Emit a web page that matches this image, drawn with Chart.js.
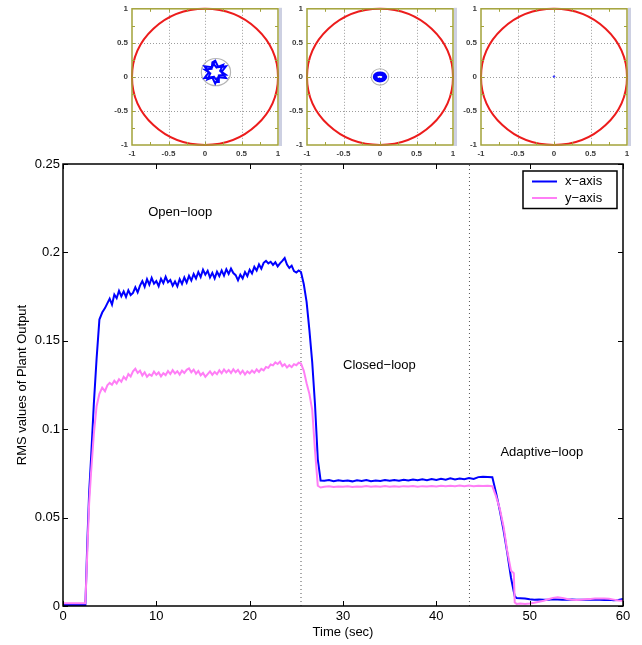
<!DOCTYPE html>
<html><head><meta charset="utf-8">
<script src="https://cdn.jsdelivr.net/npm/chart.js@4.4.0/dist/chart.umd.min.js"></script>
<style>
html,body{margin:0;padding:0;background:#fff;width:642px;height:645px;overflow:hidden}
canvas{position:absolute;top:0}
#main{left:0}
#in1{left:100px}
#in2{left:274px}
#in3{left:448px}
</style></head><body>
<canvas id="main" width="642" height="645"></canvas>
<canvas id="in1" width="186" height="162"></canvas>
<canvas id="in2" width="186" height="162"></canvas>
<canvas id="in3" width="194" height="162"></canvas>
<script>
// ---------------- DATA ----------------
const time = [0,1,2,2.4,2.6,2.8,3.0,3.3,3.6,3.9,4.2,
4.5,4.75,5,5.25,5.5,5.75,6,6.25,6.5,6.75,7,7.25,7.5,7.75,8,8.25,8.5,8.75,9,9.25,9.5,9.75,
10,10.25,10.5,10.75,11,11.25,11.5,11.75,12,12.25,12.5,12.75,13,13.25,13.5,13.75,14,14.25,14.5,14.75,
15,15.25,15.5,15.75,16,16.25,16.5,16.75,17,17.25,17.5,17.75,18,18.25,18.5,18.75,19,19.25,19.5,19.75,
20,20.25,20.5,20.75,21,21.25,21.5,21.75,22,22.25,22.5,22.75,23,23.25,23.5,23.75,24,24.25,24.5,24.75,25,25.25,25.5,
25.8,26.1,26.4,26.7,27.0,27.3,27.6,
28,28.5,29,29.5,30,30.5,31,31.5,32,32.5,33,33.5,34,34.5,35,35.5,36,36.5,37,37.5,38,38.5,39,39.5,40,40.5,41,41.5,42,42.5,43,43.5,44,44.5,45,45.5,
46,46.4,46.8,47.2,47.6,48.0,48.3,48.4,48.6,
49,49.5,50,50.5,51,51.5,52,52.5,53,53.5,54,54.5,55,55.5,56,56.5,57,57.5,58,58.5,59,59.5,60];

const xAxisRms = [0.0005,0.0005,0.0005,0.0006,
0.035,0.064,0.083,0.114,0.140,0.162,0.166,
0.1685,0.1712,
0.1738,0.1705,0.1762,0.1741,
0.1783,0.1752,0.1779,0.1748,
0.1786,0.1759,0.1771,0.1803,
0.1774,0.1812,0.1838,0.1806,
0.1849,0.1817,0.1856,0.1823,
0.1838,0.1809,0.1851,0.1826,
0.1862,0.1831,0.1844,0.1812,
0.1836,0.1808,0.1849,0.1822,
0.1858,0.1829,0.1867,0.1841,
0.1878,0.1852,0.1889,0.1861,
0.1902,0.1874,0.1896,0.1858,
0.1884,0.1853,0.1891,0.1866,
0.1898,0.1869,0.1905,0.1878,
0.1908,0.1883,0.1871,0.1842,
0.1874,0.1853,0.1889,0.1866,
0.1902,0.1881,0.1918,0.1897,
0.1932,0.1908,0.1941,0.1952,
0.1938,0.1947,0.1929,0.1944,
0.1921,0.1938,0.1952,0.1968,
0.1931,0.1912,0.1925,0.1894,
0.1886,0.1898,0.1889,
0.182,0.172,0.156,0.138,0.114,0.083,0.071,
0.0708,0.0712,0.0706,0.0711,0.0707,0.0710,0.0705,0.0711,0.0707,0.0712,0.0706,0.0710,0.0707,0.0712,0.0708,0.0713,0.0709,0.0714,0.0710,0.0716,0.0711,0.0717,0.0712,0.0718,0.0713,0.0719,0.0714,0.0722,0.0715,0.0721,0.0717,0.0724,0.0719,0.0729,0.0731,0.0730,
0.0728,0.064,0.054,0.043,0.030,0.016,0.008,0.0055,0.0045,
0.0044,0.0042,0.0038,0.0036,0.0037,0.0035,0.0036,0.0038,0.0037,0.0036,0.0035,0.0037,0.0036,0.0035,0.0036,0.0037,0.0035,0.0036,0.0034,0.0035,0.0033,0.0034,0.0040];

const yAxisRms = [0.0015,0.0015,0.0015,0.0015,
0.030,0.058,0.075,0.097,0.113,0.120,0.1235,
0.1215,0.1248,
0.1262,0.1251,0.1274,0.1259,
0.1283,0.1268,0.1296,0.1281,
0.1312,0.1298,0.1327,0.1342,
0.1318,0.1331,0.1304,0.1322,
0.1297,0.1311,0.1302,0.1326,
0.1308,0.1321,0.1299,0.1317,
0.1306,0.1329,0.1312,0.1334,
0.1315,0.1328,0.1309,0.1331,
0.1318,0.1336,0.1344,0.1322,
0.1337,0.1314,0.1329,0.1305,
0.1318,0.1296,0.1312,0.1327,
0.1308,0.1324,0.1311,0.1333,
0.1316,0.1338,0.1321,0.1335,
0.1318,0.1339,0.1322,0.1336,
0.1314,0.1331,0.1309,0.1327,
0.1316,0.1332,0.1319,0.1338,
0.1324,0.1341,0.1333,0.1352,
0.1347,0.1366,0.1361,0.1378,
0.1369,0.1382,0.1357,0.1368,
0.1349,0.1362,0.1351,0.1368,
0.1362,0.1376,0.1371,
0.133,0.126,0.120,0.111,0.088,0.068,0.067,
0.0674,0.0677,0.0673,0.0676,0.0674,0.0677,0.0673,0.0676,0.0675,0.0678,0.0674,0.0677,0.0675,0.0678,0.0674,0.0677,0.0675,0.0678,0.0676,0.0679,0.0675,0.0678,0.0676,0.0679,0.0676,0.0680,0.0677,0.0680,0.0677,0.0681,0.0678,0.0681,0.0678,0.0680,0.0679,0.0680,
0.0678,0.062,0.055,0.045,0.031,0.020,0.0185,0.002,0.0012,
0.0014,0.0012,0.0014,0.0018,0.0024,0.0030,0.0038,0.0046,0.0049,0.0046,0.0040,0.0035,0.0034,0.0036,0.0038,0.0040,0.0042,0.0043,0.0043,0.0041,0.0036,0.0031,0.0030];

const seriesNames = ['x−axis','y−axis'];
const xTicks = [0,10,20,30,40,50,60];
const yTicks = [0,0.05,0.1,0.15,0.2,0.25];
const phaseBounds = [25.5, 43.55];
const phaseNames = ['Open−loop','Closed−loop','Adaptive−loop'];
const phaseNameT = [12.55, 33.9, 51.3];
const phaseNameV = [0.2228, 0.1362, 0.0866];

// inset (phase-plane) data
const insetTicks = [-1,-0.5,0,0.5,1];
const insetMinor = [-0.75,-0.5,-0.25,0,0.25,0.5,0.75];
const insetGrid = [-0.5,0,0.5];
const boundaryRadius = 1;
const haloX = [0.15, 0, 0], haloY = [0.07, 0, 0], haloR = [0.2, 0.12, 0];
const star1X = [0.14,0.0975,-0.0072,0.055,-0.0072,0.0975,0.14,0.1825,0.2872,0.225,0.2872,0.1825,0.14,
  0.1012,0.0905,-0.0049,0.0724,0.0339,0.1219,0.1788,0.1895,0.2849,0.2076,0.2461,0.1581,0.1012];
const star1Y = [0.24,0.1436,0.155,0.07,-0.015,-0.0036,-0.10,-0.0036,-0.015,0.07,0.155,0.1436,0.24,
  0.2149,0.1195,0.1088,0.0519,-0.0361,0.0024,-0.0749,0.0205,0.0312,0.0881,0.1761,0.1376,0.2149];
const ring2X = [0.075,0.053,0,-0.053,-0.075,-0.053,0,0.053,0.075,0.06,0.042,0,-0.042,-0.06,-0.042,0,0.042,0.06];
const ring2Y = [0,0.039,0.055,0.039,0,-0.039,-0.055,-0.039,0,0,0.03,0.043,0.03,0,-0.03,-0.043,-0.03,0];
const dot3X = [0], dot3Y = [0.005];

// ---------------- MAIN CHART ----------------
const FONT = 'Liberation Sans, Arial, Helvetica, sans-serif';
const BLUE = '#0000ff', PINK = '#ff7ef6';
const plainLabel = v => String(Math.round(v * 1000) / 1000);

const mainPlugin = {
  id: 'matlabFrame',
  afterDraw(chart) {
    const {ctx, chartArea: a, scales: {x, y}} = chart;
    ctx.save();
    ctx.strokeStyle = '#000';
    ctx.lineWidth = 1.5;
    ctx.strokeRect(a.left, a.top, a.right - a.left, a.bottom - a.top);
    ctx.lineWidth = 1;
    ctx.beginPath();
    xTicks.forEach(v => {
      const px = Math.round(x.getPixelForValue(v)) + 0.5;
      ctx.moveTo(px, a.bottom); ctx.lineTo(px, a.bottom - 5);
      ctx.moveTo(px, a.top); ctx.lineTo(px, a.top + 5);
    });
    yTicks.forEach(v => {
      const py = Math.round(y.getPixelForValue(v)) + 0.5;
      ctx.moveTo(a.left, py); ctx.lineTo(a.left + 5, py);
      ctx.moveTo(a.right, py); ctx.lineTo(a.right - 5, py);
    });
    ctx.stroke();
    // phase labels
    ctx.fillStyle = '#000';
    ctx.font = '13px ' + FONT;
    ctx.textAlign = 'center';
    ctx.textBaseline = 'middle';
    phaseNames.forEach((s, i) => ctx.fillText(s, x.getPixelForValue(phaseNameT[i]), y.getPixelForValue(phaseNameV[i])));
    // legend
    const lw = 94, lh = 37.5;
    const lx = a.right - 6 - lw, ly = a.top + 7;
    ctx.fillStyle = '#fff';
    ctx.fillRect(lx, ly, lw, lh);
    ctx.strokeStyle = '#000';
    ctx.lineWidth = 1.5;
    ctx.strokeRect(lx, ly, lw, lh);
    const cols = [BLUE, PINK];
    seriesNames.forEach((s, i) => {
      const yy = ly + 10.5 + i * 16.5;
      ctx.strokeStyle = cols[i];
      ctx.lineWidth = 2;
      ctx.beginPath(); ctx.moveTo(lx + 9, yy); ctx.lineTo(lx + 34, yy); ctx.stroke();
      ctx.fillStyle = '#000';
      ctx.textAlign = 'left';
      ctx.fillText(s, lx + 42, yy);
    });
    ctx.restore();
  }
};

const mk = (xs, ys) => xs.map((t, i) => ({x: t, y: ys[i]}));

new Chart(document.getElementById('main'), {
  type: 'line',
  data: {
    datasets: [
      {label: seriesNames[0], data: mk(time, xAxisRms), borderColor: BLUE, borderWidth: 2, pointRadius: 0, tension: 0, order: 1},
      {label: seriesNames[1], data: mk(time, yAxisRms), borderColor: PINK, borderWidth: 2, pointRadius: 0, tension: 0, order: 0},
      {label: 'b1', data: [{x: phaseBounds[0], y: yTicks[0]}, {x: phaseBounds[0], y: yTicks[yTicks.length-1]}], borderColor: '#555', borderWidth: 1, borderDash: [1, 3], pointRadius: 0, order: 3},
      {label: 'b2', data: [{x: phaseBounds[1], y: yTicks[0]}, {x: phaseBounds[1], y: yTicks[yTicks.length-1]}], borderColor: '#555', borderWidth: 1, borderDash: [1, 3], pointRadius: 0, order: 3}
    ]
  },
  options: {
    responsive: false, animation: false, devicePixelRatio: 1,
    layout: {padding: {top: 164, right: 19, left: 0, bottom: 0}},
    plugins: {legend: {display: false}, tooltip: {enabled: false}},
    scales: {
      x: {
        type: 'linear', min: 0, max: 60,
        afterBuildTicks: s => { s.ticks = xTicks.map(v => ({value: v})); },
        afterFit: s => { s.height = 39; },
        grid: {display: false, drawTicks: false}, border: {display: false},
        ticks: {padding: 3, color: '#000', font: {family: FONT, size: 13}, maxRotation: 0, autoSkip: false, callback: plainLabel},
        title: {display: true, text: 'Time (sec)', color: '#000', font: {family: FONT, size: 13}, padding: {top: 0, bottom: 5}}
      },
      y: {
        type: 'linear', min: 0, max: 0.25,
        afterBuildTicks: s => { s.ticks = yTicks.map(v => ({value: v})); },
        afterFit: s => { s.width = 63; },
        grid: {display: false, drawTicks: false}, border: {display: false},
        ticks: {padding: 3, color: '#000', font: {family: FONT, size: 13}, autoSkip: false, callback: plainLabel},
        title: {display: true, text: 'RMS values of Plant Output', color: '#000', font: {family: FONT, size: 13}, padding: {top: 15, bottom: 0}}
      }
    }
  },
  plugins: [mainPlugin]
});

// ---------------- INSETS ----------------
function insetPlugin(idx) {
  return {
    id: 'inset' + idx,
    beforeDatasetsDraw(chart) {
      const {ctx, chartArea: a, scales: {x, y}} = chart;
      ctx.save();
      ctx.strokeStyle = '#9c9c9c';
      ctx.lineWidth = 1;
      ctx.setLineDash([1, 2]);
      ctx.beginPath();
      insetGrid.forEach(v => {
        const px = Math.round(x.getPixelForValue(v)) + 0.5;
        ctx.moveTo(px, a.top); ctx.lineTo(px, a.bottom);
        const py = Math.round(y.getPixelForValue(v)) + 0.5;
        ctx.moveTo(a.left, py); ctx.lineTo(a.right, py);
      });
      ctx.stroke();
      ctx.setLineDash([]);
      const ux = x.getPixelForValue(1) - x.getPixelForValue(0);
      const uy = y.getPixelForValue(0) - y.getPixelForValue(1);
      if (haloR[idx] > 0) {
        ctx.strokeStyle = '#b4b4b4';
        ctx.lineWidth = 1.2;
        ctx.beginPath();
        ctx.ellipse(x.getPixelForValue(haloX[idx]), y.getPixelForValue(haloY[idx]), haloR[idx] * ux, haloR[idx] * uy, 0, 0, Math.PI * 2);
        ctx.stroke();
      }
      ctx.strokeStyle = '#ec1c1c';
      ctx.lineWidth = 2;
      ctx.beginPath();
      ctx.ellipse(x.getPixelForValue(0), y.getPixelForValue(0), boundaryRadius * ux, boundaryRadius * uy, 0, 0, Math.PI * 2);
      ctx.stroke();
      ctx.restore();
    },
    afterDraw(chart) {
      const {ctx, chartArea: a, scales: {x, y}} = chart;
      ctx.save();
      ctx.fillStyle = '#cdd0e2';
      ctx.fillRect(a.right + 1, a.top - 1, 3, a.bottom - a.top + 2);
      ctx.strokeStyle = '#a3a33a';
      ctx.lineWidth = 1.5;
      ctx.strokeRect(a.left, a.top, a.right - a.left, a.bottom - a.top);
      ctx.lineWidth = 1;
      ctx.beginPath();
      insetMinor.forEach(v => {
        const px = Math.round(x.getPixelForValue(v)) + 0.5;
        ctx.moveTo(px, a.bottom); ctx.lineTo(px, a.bottom - 3);
        ctx.moveTo(px, a.top); ctx.lineTo(px, a.top + 3);
        const py = Math.round(y.getPixelForValue(v)) + 0.5;
        ctx.moveTo(a.left, py); ctx.lineTo(a.left + 3, py);
        ctx.moveTo(a.right, py); ctx.lineTo(a.right - 3, py);
      });
      ctx.stroke();
      ctx.restore();
    }
  };
}

function makeInset(id, idx, yWidth, padRight, datasets) {
  const tickFont = {family: FONT, size: 8, weight: 'bold'};
  new Chart(document.getElementById(id), {
    type: 'scatter',
    data: {datasets},
    options: {
      responsive: false, animation: false, devicePixelRatio: 1,
      layout: {padding: {top: 6, right: padRight, left: 0, bottom: 0}},
      plugins: {legend: {display: false}, tooltip: {enabled: false}},
      scales: {
        x: {
          type: 'linear', min: -1, max: 1,
          afterBuildTicks: s => { s.ticks = insetTicks.map(v => ({value: v})); },
          afterFit: s => { s.height = 17; },
          grid: {display: false, drawTicks: false}, border: {display: false},
          ticks: {padding: 4, color: '#3c3c3c', font: tickFont, maxRotation: 0, autoSkip: false, callback: plainLabel}
        },
        y: {
          type: 'linear', min: -1, max: 1,
          afterBuildTicks: s => { s.ticks = insetTicks.map(v => ({value: v})); },
          afterFit: s => { s.width = yWidth; },
          grid: {display: false, drawTicks: false}, border: {display: false},
          ticks: {padding: 4, color: '#3c3c3c', font: tickFont, autoSkip: false, callback: plainLabel}
        }
      }
    },
    plugins: [insetPlugin(idx)]
  });
}

makeInset('in1', 0, 32, 8, [
  {data: mk(star1X, star1Y), showLine: true, borderColor: BLUE, borderWidth: 2, pointRadius: 0, tension: 0}
]);
makeInset('in2', 1, 33, 7, [
  {data: mk(ring2X, ring2Y), showLine: true, borderColor: BLUE, borderWidth: 3.5, pointRadius: 0, tension: 0.3}
]);
makeInset('in3', 2, 33, 15, [
  {data: mk(dot3X, dot3Y), showLine: false, backgroundColor: '#3030ff', borderColor: '#3030ff', pointRadius: 0.8}
]);
</script>
</body></html>
